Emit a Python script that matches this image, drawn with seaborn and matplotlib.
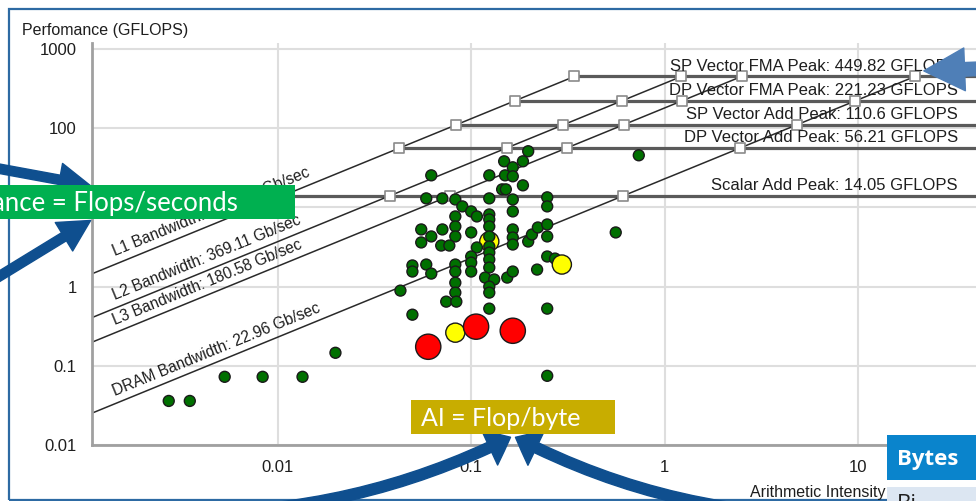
import numpy as np
import pandas as pd
import seaborn as sns
import matplotlib.pyplot as plt
from matplotlib.patches import Rectangle, FancyArrowPatch
from matplotlib import transforms

# roofs (GFLOPS) and bandwidths (Gb/sec)
roof_labels = ['SP Vector FMA Peak', 'DP Vector FMA Peak', 'SP Vector Add Peak',
               'DP Vector Add Peak', 'Scalar Add Peak']
roof_gflops = [449.82, 221.23, 110.6, 56.21, 14.05]
bw_labels = ['L1 Bandwidth', 'L2 Bandwidth', 'L3 Bandwidth', 'DRAM Bandwidth']
bw_gbs = [1319.32, 369.11, 180.58, 22.96]

# loops: arithmetic intensity (flop/byte) vs performance (GFLOPS)
green_ai = [0.00274, 0.00352, 0.00533, 0.00837, 0.01345, 0.0199, 0.197, 0.148, 0.185, 0.164,
            0.0622, 0.124, 0.1496, 0.164, 0.185, 0.1445, 0.151, 0.734, 0.0586, 0.071,
            0.0828, 0.124, 0.164, 0.247, 0.247, 0.090, 0.1, 0.107, 0.0828, 0.0828,
            0.124, 0.124, 0.124, 0.164, 0.0552, 0.071, 0.1, 0.164, 0.0828, 0.0622,
            0.0552, 0.070, 0.0771, 0.107, 0.124, 0.124, 0.124, 0.164, 0.164, 0.197,
            0.206, 0.221, 0.247, 0.247, 0.558, 0.1, 0.1, 0.1, 0.124, 0.124,
            0.118, 0.1315, 0.1535, 0.164, 0.219, 0.247, 0.271, 0.0497, 0.0497, 0.0586,
            0.0622, 0.0828, 0.0828, 0.0431, 0.0828, 0.0828, 0.0743, 0.0838, 0.124, 0.124,
            0.124, 0.247, 0.0497, 0.247]
green_perf = [0.036, 0.036, 0.0726, 0.0726, 0.0726, 0.146, 51.2, 38.2, 38.2, 32.1,
              25.4, 25.4, 25.4, 24.7, 19.0, 16.9, 16.9, 45.5, 13.0, 13.0,
              12.6, 13.0, 12.6, 13.4, 10.3, 10.3, 8.9, 7.69, 7.69, 5.75,
              8.15, 7.05, 5.75, 8.9, 5.27, 5.27, 4.83, 5.27, 4.30, 4.30,
              3.61, 3.30, 3.30, 3.12, 4.30, 3.21, 2.69, 4.17, 3.40, 3.71,
              4.55, 5.58, 6.09, 4.30, 4.83, 2.40, 2.01, 1.55, 2.20, 1.74,
              1.30, 1.23, 1.30, 1.55, 1.64, 2.40, 2.26, 1.85, 1.55, 1.90,
              1.46, 1.90, 1.55, 0.89, 1.12, 0.84, 0.646, 0.646, 1.0, 0.84,
              0.527, 0.527, 0.442, 0.0747]
yellow_ai = [0.124, 0.294, 0.0828]
yellow_perf = [3.71, 1.90, 0.262]
red_ai = [0.060, 0.106, 0.164]
red_perf = [0.174, 0.312, 0.277]

W, H = 976, 501
def P(x, y):
    return (x / W, 1 - y / H)

sns.set_style('white')
plt.rcParams['font.family'] = ['Liberation Sans', 'DejaVu Sans']

fig = plt.figure(figsize=(W / 100, H / 100), dpi=100)
ax = fig.add_axes([92 / W, 1 - 445 / H, 1 - 92 / W, (445 - 43) / H])
ax.set_xscale('log')
ax.set_yscale('log')
xmin, xmax = 0.0011, 40.5
ax.set_xlim(xmin, xmax)
ax.set_ylim(0.01, 1191)

# roofline segments
top = max(roof_gflops)
l1 = max(bw_gbs)
diag = []
for name, bw in zip(bw_labels, bw_gbs):
    for x in [xmin, top / bw]:
        diag.append({'seg': name, 'ai': x, 'perf': bw * x})
roofs = []
for name, pk in zip(roof_labels, roof_gflops):
    for x in [pk / l1, xmax * 2]:
        roofs.append({'seg': name, 'ai': x, 'perf': pk})
sns.lineplot(data=pd.DataFrame(roofs), x='ai', y='perf', units='seg', estimator=None,
             sort=False, color='#5a5a5a', lw=2.3, ax=ax, zorder=2)
sns.lineplot(data=pd.DataFrame(diag), x='ai', y='perf', units='seg', estimator=None,
             sort=False, color='#2a2a2a', lw=1.1, ax=ax, zorder=2)

corners = pd.DataFrame([{'ai': pk / bw, 'perf': pk} for bw in bw_gbs for pk in roof_gflops])
sns.scatterplot(data=corners, x='ai', y='perf', marker='s', s=48, color='white',
                edgecolor='#8a8a8a', linewidth=1.2, ax=ax, zorder=3)

# loops
df = pd.concat([
    pd.DataFrame({'ai': yellow_ai[:1], 'perf': yellow_perf[:1], 'kind': 'yellow'}),
    pd.DataFrame({'ai': green_ai, 'perf': green_perf, 'kind': 'green'}),
    pd.DataFrame({'ai': yellow_ai[1:], 'perf': yellow_perf[1:], 'kind': 'yellow'}),
    pd.DataFrame({'ai': red_ai, 'perf': red_perf, 'kind': 'red'}),
], ignore_index=True)
sns.scatterplot(data=df, x='ai', y='perf', hue='kind', size='kind',
                palette={'green': '#007000', 'yellow': '#ffff00', 'red': '#ff0000'},
                sizes={'green': 62, 'yellow': 190, 'red': 330},
                edgecolor='#1a1a1a', linewidth=1.0, legend=False, ax=ax, zorder=5)

# axes styling
ax.set_xlabel('')
ax.set_ylabel('')
ax.set_xticks([0.01, 0.1, 1, 10], ['0.01', '0.1', '1', '10'])
ax.set_yticks([0.01, 0.1, 1, 10, 100, 1000], ['0.01', '0.1', '1', '10', '100', '1000'])
ax.minorticks_off()
ax.tick_params(axis='both', length=6, width=1.3, color='#8c8c8c', labelsize=12,
               labelcolor='#1e1e1e', direction='out', pad=5)
ax.grid(True, color='#dedede', lw=1.5)
ax.set_axisbelow(True)
for s in ['top', 'right']:
    ax.spines[s].set_visible(False)
for s in ['left', 'bottom']:
    ax.spines[s].set_color('#a0a0a0')
    ax.spines[s].set_linewidth(2)

# roof labels
for name, pk in zip(roof_labels, roof_gflops):
    ax.annotate(f'{name}: {pk:g} GFLOPS', xy=(1, pk), xycoords=('axes fraction', 'data'),
                xytext=(-13, 2), textcoords='offset points', ha='right', va='bottom',
                fontsize=12, color='#1e1e1e', zorder=4)

# bandwidth labels along the diagonals
p1 = ax.transData.transform((0.001, 1))
p2 = ax.transData.transform((0.01, 10))
ang = np.degrees(np.arctan2(p2[1] - p1[1], p2[0] - p1[0]))
off = transforms.offset_copy(ax.transData, fig=fig, x=-3 * np.sin(np.radians(ang)),
                             y=3 * np.cos(np.radians(ang)), units='points')
for name, bw in zip(bw_labels, bw_gbs):
    ax.text(0.0015, bw * 0.0015, f'{name}: {bw:g} Gb/sec', transform=off, rotation=ang,
            rotation_mode='anchor', ha='left', va='bottom', fontsize=11.2, color='#1e1e1e')

fig.text(*P(22, 30), 'Perfomance (GFLOPS)', ha='left', va='center', fontsize=11.5, color='#1e1e1e')
fig.text(*P(750, 492), 'Arithmetic Intensity', ha='left', va='center', fontsize=11.5, color='#1e1e1e')

# slide frame
fig.add_artist(Rectangle(P(9, 500), 1.2, (500 - 9) / H, transform=fig.transFigure,
                         fill=False, edgecolor='#2d6aa3', lw=1.6, zorder=1))

# callouts
blue = '#0f4f8f'
fig.add_artist(Rectangle(P(0, 219), 295 / W, 34 / H, transform=fig.transFigure,
                         facecolor='#00b050', edgecolor='none', zorder=10))
fig.text(*P(238, 203), 'Performance = Flops/seconds', ha='right', va='center',
         fontsize=18.5, color='white', family='Lato', zorder=11)
for tail, head in [((-10, 167), (93, 186)), ((-10, 282), (93, 219))]:
    fig.add_artist(FancyArrowPatch(P(*tail), P(*head), transform=fig.transFigure,
                                   arrowstyle='simple,head_length=1.5,head_width=1.6,tail_width=0.45',
                                   mutation_scale=15, color=blue, zorder=9))

fig.add_artist(Rectangle(P(411, 434), 204 / W, 34 / H, transform=fig.transFigure,
                         facecolor='#c8ad00', edgecolor='none', zorder=10))
fig.text(*P(421, 418), 'AI = Flop/byte', ha='left', va='center', fontsize=18,
         color='white', family='Lato', zorder=11)
for tail, rad in [((160, 512), 0.13), ((880, 514), -0.14)]:
    fig.add_artist(FancyArrowPatch(P(*tail), P(513, 436), transform=fig.transFigure,
                                   connectionstyle=f'arc3,rad={rad}',
                                   arrowstyle='simple,head_length=1.2,head_width=2.0,tail_width=0.55',
                                   mutation_scale=14, color=blue, zorder=9))

fig.add_artist(FancyArrowPatch(P(1000, 68), P(921, 71), transform=fig.transFigure,
                               arrowstyle='simple,head_length=2.1,head_width=2.2,tail_width=0.7',
                               mutation_scale=14, color='#4f7fb7', zorder=9))

fig.add_artist(Rectangle(P(887, 480), 100 / W, 45 / H, transform=fig.transFigure,
                         facecolor='#0a84cc', edgecolor='none', zorder=10))
fig.text(*P(897, 459), 'Bytes', ha='left', va='center', fontsize=16, fontweight='bold',
         color='white', family='Open Sans', zorder=11)
fig.add_artist(Rectangle(P(887, 505), 100 / W, 18 / H, transform=fig.transFigure,
                         facecolor='#dce6f2', edgecolor='none', zorder=10))
fig.text(*P(897, 494), 'Bi', ha='left', va='top', fontsize=16, color='#1e1e1e',
         family='Open Sans', zorder=11)

fig.savefig('out.png', dpi=100)
